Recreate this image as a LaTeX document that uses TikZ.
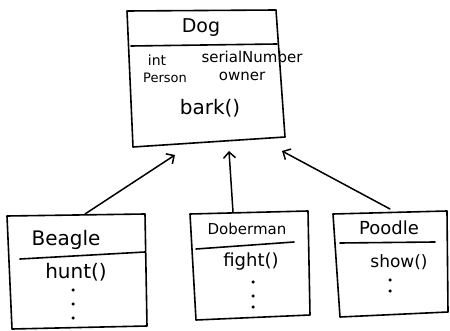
\documentclass[tikz,border=0pt]{standalone}
\usepackage{fontspec}
\setmainfont{DejaVu Sans}
\usetikzlibrary{arrows.meta}
\newcommand{\fsz}[1]{\fontsize{#1}{#1}\selectfont}
\begin{document}
\begin{tikzpicture}[x=1pt,y=-1pt,
  box/.style={line width=1.6pt,line cap=round,line join=round},
  txt/.style={inner sep=0pt},
  inh/.style={line width=1.5pt,line cap=round,-{Straight Barb[length=6pt,width=12pt,line width=1.5pt]}},
  dotm/.style={circle,fill=black,inner sep=0pt,minimum size=3.5pt}]
\useasboundingbox (0,0) rectangle (450,331);
% Dog
\coordinate (dtl) at (127,11);
\coordinate (dtr) at (276,10);
\coordinate (dbr) at (285,137);
\coordinate (dbl) at (133,147);
\draw[box] (dtl) -- (dtr) -- (dbr) -- (dbl) -- cycle;
\coordinate (dhl) at (131,46);
\coordinate (dhr) at (277,44);
\draw[box] (dhl) -- (dhr);
\node[txt,font=\fsz{19}] (dogname) at (201,28) {Dog};
\node[txt,font=\fsz{14}] (dint) at (157,60) {int};
\node[txt,font=\fsz{15}] (dser) at (252,57) {serialNumber};
\node[txt,font=\fsz{13}] (dper) at (165,78) {Person};
\node[txt,font=\fsz{15}] (down) at (242,76) {owner};
\node[txt,font=\fsz{20}] (dbark) at (210,108) {bark()};
\coordinate (ain1) at (175,155);
\coordinate (ain2) at (229,151);
\coordinate (ain3) at (282,151);
% Beagle
\coordinate (btl) at (7,216);
\coordinate (btr) at (145,214);
\coordinate (bbr) at (147,326);
\coordinate (bbl) at (12,329);
\draw[box] (btl) -- (btr) -- (bbr) -- (bbl) -- cycle;
\coordinate (bhl) at (20,259);
\coordinate (bhr) at (145,252);
\draw[box] (bhl) -- (bhr);
\node[txt,font=\fsz{20}] (bname) at (66,240) {Beagle};
\node[txt,font=\fsz{20}] (bhunt) at (76,272) {hunt()};
\node[dotm] (bd1) at (73,290) {};
\node[dotm] (bd2) at (73,304) {};
\node[dotm] (bd3) at (73,318) {};
\coordinate (bup) at (85,214);
% Doberman
\coordinate (otl) at (190,214);
\coordinate (otr) at (308,211);
\coordinate (obr) at (310,315);
\coordinate (obl) at (196,320);
\draw[box] (otl) -- (otr) -- (obr) -- (obl) -- cycle;
\coordinate (ohl) at (196,249);
\coordinate (ohr) at (294,242);
\draw[box] (ohl) -- (ohr);
\node[txt,font=\fsz{15}] (oname) at (247,229) {Doberman};
\node[txt,font=\fsz{18}] (ofight) at (251,262) {fight()};
\node[dotm] (od1) at (253,282) {};
\node[dotm] (od2) at (253,296) {};
\node[dotm] (od3) at (253,307) {};
\coordinate (oup) at (233,212);
% Poodle
\coordinate (ptl) at (333,214);
\coordinate (ptr) at (447,211);
\coordinate (pbr) at (448,312);
\coordinate (pbl) at (340,317);
\draw[box] (ptl) -- (ptr) -- (pbr) -- (pbl) -- cycle;
\coordinate (phl) at (340,243);
\coordinate (phr) at (435,242);
\draw[box] (phl) -- (phr);
\node[txt,font=\fsz{18}] (pname) at (389,228) {Poodle};
\node[txt,font=\fsz{17}] (pshow) at (399,262) {show()};
\node[dotm] (pd1) at (390,280) {};
\node[dotm] (pd2) at (390,291) {};
\coordinate (pup) at (390,209);
% inheritance
\draw[inh] (bup) -- (ain1);
\draw[inh] (oup) -- (ain2);
\draw[inh] (pup) -- (ain3);
\end{tikzpicture}
\end{document}
